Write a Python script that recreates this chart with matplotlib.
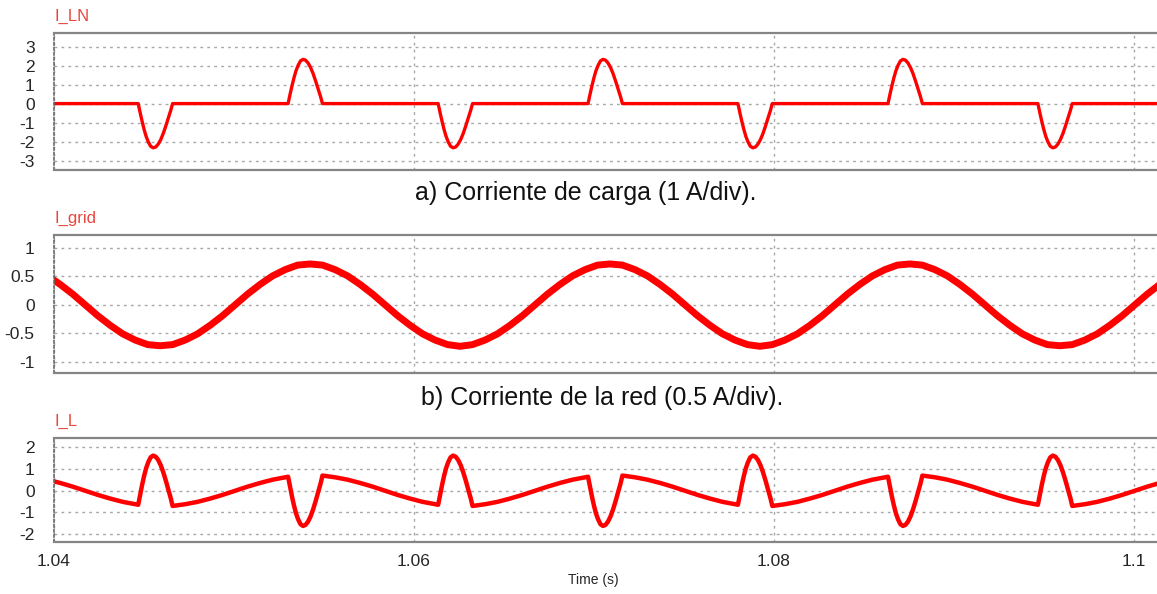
import matplotlib.pyplot as plt
import numpy as np

plt.rcParams["font.family"] = ["Liberation Sans", "DejaVu Sans"]
plt.rcParams["axes.unicode_minus"] = False

TRACE = "#ff0000"
LABEL_RED = "#e8473f"
GRID_COLOR = "#a8a8a8"
SPINE_COLOR = "#858585"

# sample instants of the seven rectifier pulses (shared by I_LN and I_L)
pulse_times = [
    [1.04468, 1.04479, 1.04490, 1.04501, 1.04512, 1.04524, 1.04537, 1.04551,
     1.04565, 1.04579, 1.04593, 1.04607, 1.04621, 1.04635, 1.04649, 1.04659],
    [1.05301, 1.05312, 1.05323, 1.05334, 1.05345, 1.05357, 1.05370, 1.05384,
     1.05398, 1.05412, 1.05426, 1.05440, 1.05454, 1.05468, 1.05482, 1.05492],
    [1.06135, 1.06146, 1.06157, 1.06168, 1.06179, 1.06191, 1.06204, 1.06218,
     1.06232, 1.06246, 1.06260, 1.06274, 1.06288, 1.06302, 1.06316, 1.06326],
    [1.06968, 1.06979, 1.06990, 1.07001, 1.07012, 1.07024, 1.07037, 1.07051,
     1.07065, 1.07079, 1.07093, 1.07107, 1.07121, 1.07135, 1.07149, 1.07159],
    [1.07801, 1.07812, 1.07823, 1.07834, 1.07845, 1.07857, 1.07870, 1.07884,
     1.07898, 1.07912, 1.07926, 1.07940, 1.07954, 1.07968, 1.07982, 1.07992],
    [1.08635, 1.08646, 1.08657, 1.08668, 1.08679, 1.08691, 1.08704, 1.08718,
     1.08732, 1.08746, 1.08760, 1.08774, 1.08788, 1.08802, 1.08816, 1.08826],
    [1.09468, 1.09479, 1.09490, 1.09501, 1.09512, 1.09524, 1.09537, 1.09551,
     1.09565, 1.09579, 1.09593, 1.09607, 1.09621, 1.09635, 1.09649, 1.09659],
]

# --- I_LN: load current (zero between pulses)
ln_pulse_vals = [
    [0, -0.49, -0.95, -1.37, -1.73, -2.02, -2.25, -2.33, -2.29, -2.14, -1.90, -1.58, -1.19, -0.77, -0.35, 0],
    [0, 0.49, 0.95, 1.37, 1.73, 2.02, 2.25, 2.33, 2.29, 2.14, 1.90, 1.58, 1.19, 0.77, 0.35, 0],
    [0, -0.49, -0.95, -1.37, -1.73, -2.02, -2.25, -2.33, -2.29, -2.14, -1.90, -1.58, -1.19, -0.77, -0.35, 0],
    [0, 0.49, 0.95, 1.37, 1.73, 2.02, 2.25, 2.33, 2.29, 2.14, 1.90, 1.58, 1.19, 0.77, 0.35, 0],
    [0, -0.49, -0.95, -1.37, -1.73, -2.02, -2.25, -2.33, -2.29, -2.14, -1.90, -1.58, -1.19, -0.77, -0.35, 0],
    [0, 0.49, 0.95, 1.37, 1.73, 2.02, 2.25, 2.33, 2.29, 2.14, 1.90, 1.58, 1.19, 0.77, 0.35, 0],
    [0, -0.49, -0.95, -1.37, -1.73, -2.02, -2.25, -2.33, -2.29, -2.14, -1.90, -1.58, -1.19, -0.77, -0.35, 0],
]
ln_edge_t = [1.04000, 1.10200]
ln_edge_vals = [0.0, 0.0]

# --- I_grid: read every 1/24 of a 60 Hz cycle
grid_t0 = 1.03965
grid_dt = 1 / 60 / 24
i_grid = [
    0.51, 0.36, 0.19, 0.00, -0.19, -0.36, -0.51, -0.62, -0.70,
    -0.72, -0.70, -0.62, -0.51, -0.36, -0.19, 0.00, 0.19, 0.36, 0.51, 0.62, 0.70,
    0.72, 0.70, 0.62, 0.51, 0.36, 0.19, 0.00, -0.19, -0.36, -0.51, -0.62, -0.70,
    -0.73, -0.70, -0.62, -0.51, -0.36, -0.19, 0.00, 0.19, 0.36, 0.51, 0.62, 0.70,
    0.72, 0.70, 0.62, 0.51, 0.36, 0.19, 0.00, -0.19, -0.36, -0.51, -0.62, -0.70,
    -0.73, -0.70, -0.62, -0.51, -0.36, -0.19, 0.00, 0.19, 0.36, 0.51, 0.62, 0.70,
    0.72, 0.70, 0.62, 0.51, 0.36, 0.19, 0.00, -0.19, -0.36, -0.51, -0.62, -0.70,
    -0.72, -0.70, -0.62, -0.51, -0.36, -0.19, 0.00, 0.19, 0.36,
]
t_grid = grid_t0 + grid_dt * np.arange(len(i_grid))

# --- I_L: inductor current; segments between pulses, then pulse values
l_seg_times = [
    [1.03965, 1.04034, 1.04104, 1.04173, 1.04243, 1.04312, 1.04382],
    [1.04729, 1.04798, 1.04868, 1.04937, 1.05007, 1.05076, 1.05146, 1.05215, 1.05284],
    [1.05562, 1.05632, 1.05701, 1.05771, 1.05840, 1.05909, 1.05979, 1.06048, 1.06118],
    [1.06396, 1.06465, 1.06534, 1.06604, 1.06673, 1.06743, 1.06812, 1.06882, 1.06951],
    [1.07229, 1.07298, 1.07368, 1.07437, 1.07507, 1.07576, 1.07646, 1.07715, 1.07784],
    [1.08062, 1.08132, 1.08201, 1.08271, 1.08340, 1.08409, 1.08479, 1.08548, 1.08618],
    [1.08896, 1.08965, 1.09034, 1.09104, 1.09173, 1.09243, 1.09312, 1.09382, 1.09451],
    [1.09729, 1.09798, 1.09868, 1.09937, 1.10007, 1.10076, 1.10146],
]
l_seg_vals = [
    [0.51, 0.36, 0.19, 0.00, -0.19, -0.36, -0.51],
    [-0.62, -0.51, -0.36, -0.19, 0.00, 0.19, 0.36, 0.51, 0.62],
    [0.62, 0.51, 0.36, 0.19, 0.00, -0.19, -0.36, -0.51, -0.62],
    [-0.62, -0.51, -0.36, -0.19, 0.00, 0.19, 0.36, 0.51, 0.62],
    [0.62, 0.51, 0.36, 0.19, 0.00, -0.19, -0.36, -0.51, -0.62],
    [-0.62, -0.51, -0.36, -0.19, 0.00, 0.19, 0.36, 0.51, 0.62],
    [0.62, 0.51, 0.36, 0.19, 0.00, -0.19, -0.36, -0.51, -0.62],
    [-0.62, -0.51, -0.36, -0.19, 0.00, 0.19, 0.36],
]
l_pulse_vals = [
    [-0.645, -0.17, 0.28, 0.69, 1.04, 1.32, 1.54, 1.62, 1.57, 1.42, 1.18, 0.86, 0.48, 0.06, -0.35, -0.70],
    [0.645, 0.17, -0.28, -0.69, -1.04, -1.32, -1.54, -1.62, -1.57, -1.42, -1.18, -0.86, -0.48, -0.06, 0.35, 0.70],
    [-0.645, -0.17, 0.28, 0.69, 1.04, 1.32, 1.54, 1.62, 1.57, 1.42, 1.18, 0.86, 0.48, 0.06, -0.35, -0.70],
    [0.645, 0.17, -0.28, -0.69, -1.04, -1.32, -1.54, -1.62, -1.57, -1.42, -1.18, -0.86, -0.48, -0.06, 0.35, 0.70],
    [-0.645, -0.17, 0.28, 0.69, 1.04, 1.32, 1.54, 1.62, 1.57, 1.42, 1.18, 0.86, 0.48, 0.06, -0.35, -0.70],
    [0.645, 0.17, -0.28, -0.69, -1.04, -1.32, -1.54, -1.62, -1.57, -1.42, -1.18, -0.86, -0.48, -0.06, 0.35, 0.70],
    [-0.645, -0.17, 0.28, 0.69, 1.04, 1.32, 1.54, 1.62, 1.57, 1.42, 1.18, 0.86, 0.48, 0.06, -0.35, -0.70],
]

# assemble the traces in time order
t_ln = [ln_edge_t[0]] + [t for row in pulse_times for t in row] + [ln_edge_t[1]]
i_ln = [ln_edge_vals[0]] + [v for row in ln_pulse_vals for v in row] + [ln_edge_vals[1]]

t_l, i_l = [], []
for k in range(len(pulse_times)):
    t_l += l_seg_times[k] + pulse_times[k]
    i_l += l_seg_vals[k] + l_pulse_vals[k]
t_l += l_seg_times[-1]
i_l += l_seg_vals[-1]

x_ticks = [1.04, 1.06, 1.08, 1.1]
x_tick_labels = ["1.04", "1.06", "1.08", "1.1"]

ln_ticks = [-3, -2, -1, 0, 1, 2, 3]
grid_ticks = [-1, -0.5, 0, 0.5, 1]
grid_tick_labels = ["-1", "-0.5", "0", "0.5", "1"]
l_ticks = [-2, -1, 0, 1, 2]

XLIM = (1.04, 1.1013)

fig = plt.figure(figsize=(11.57, 5.94), dpi=100)

W, H = 1157.0, 594.0


def make_axes(top_px, bottom_px):
    left = 54 / W
    return fig.add_axes([left, 1 - bottom_px / H, 1.0 - left, (bottom_px - top_px) / H])


def style(ax, ylim, yticks, yticklabels, name, show_x, title_gap):
    ax.set_xlim(*XLIM)
    ax.set_ylim(*ylim)
    ax.set_xticks(x_ticks)
    if show_x:
        ax.set_xticklabels(x_tick_labels)
    else:
        ax.set_xticklabels([])
    ax.set_yticks(yticks)
    ax.set_yticklabels(yticklabels)
    ax.tick_params(axis="both", length=0, labelsize=12.5, colors="#262626")
    ax.tick_params(axis="y", pad=14)
    ax.tick_params(axis="x", pad=9)
    ax.grid(True, color=GRID_COLOR, linestyle=(0, (2, 3)), linewidth=1.0)
    ax.set_axisbelow(True)
    ax.spines["right"].set_visible(False)
    for s in ["top", "bottom"]:
        ax.spines[s].set_color(SPINE_COLOR)
        ax.spines[s].set_linewidth(1.6)
    ax.spines["left"].set_color("#6a6a6a")
    ax.spines["left"].set_linewidth(1.2)
    ax.spines["left"].set_linestyle((0, (1.5, 1.5)))
    ax.annotate(name, xy=(0, 1), xycoords="axes fraction", xytext=(0, title_gap),
                textcoords="offset pixels", color=LABEL_RED, fontsize=12,
                ha="left", va="bottom")


ax1 = make_axes(33, 170)
ax1.plot(t_ln, i_ln, color=TRACE, linewidth=2.4, solid_joinstyle="round")
style(ax1, (-3.5, 3.72), ln_ticks, [str(v) for v in ln_ticks], "I_LN", False, 9)

ax2 = make_axes(235, 373)
ax2.plot(t_grid, i_grid, color=TRACE, linewidth=5.0, solid_joinstyle="round")
style(ax2, (-1.2, 1.23), grid_ticks, grid_tick_labels, "I_grid", False, 9)

ax3 = make_axes(438, 542)
ax3.plot(t_l, i_l, color=TRACE, linewidth=3.2, solid_joinstyle="round")
style(ax3, (-2.36, 2.43), l_ticks, [str(v) for v in l_ticks], "I_L", True, 9)

fig.text(586 / W, 1 - 193 / H, "a) Corriente de carga (1 A/div).",
         fontsize=18, ha="center", va="center", color="#111111")
fig.text(602 / W, 1 - 398 / H, "b) Corriente de la red (0.5 A/div).",
         fontsize=18, ha="center", va="center", color="#111111")
fig.text(593 / W, 1 - 580 / H, "Time (s)", fontsize=10, ha="center",
         va="center", color="#262626")

fig.savefig("out.png", dpi=100)
